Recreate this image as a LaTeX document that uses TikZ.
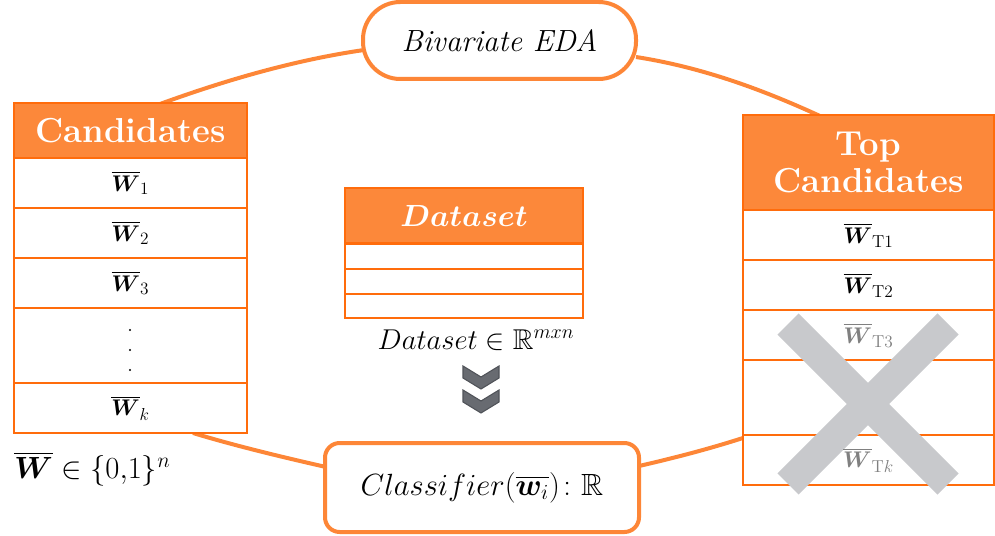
\RequirePackage{fix-cm}
\documentclass[tikz,border=0pt]{standalone}
\usepackage{amsmath,amssymb,bm}
\DeclareMathSizes{17}{17}{13}{10}
\definecolor{orfill}{RGB}{252,136,58}
\definecolor{orline}{RGB}{255,108,12}
\definecolor{orring}{RGB}{253,134,55}
\definecolor{xgray}{RGB}{200,201,204}
\definecolor{txtgray}{RGB}{128,128,128}
\definecolor{chevfill}{RGB}{104,107,113}
\definecolor{chevdark}{RGB}{80,83,89}
\begin{document}
\begin{tikzpicture}[x=0.75pt,y=-0.75pt,
  cell/.style 2 args={draw=orline, line width=1.5pt, fill=white,
    minimum width=#1*0.75pt, minimum height=#2*0.75pt,
    inner sep=0pt, outer sep=0pt, font=\fontsize{17}{20}\selectfont},
  head/.style 2 args={cell={#1}{#2}, fill=orfill, text=white,
    font=\bfseries\fontsize{26}{28}\selectfont, align=center},
  ring/.style={draw=orring, line width=3pt},
  bubble/.style={draw=orring, line width=3pt, fill=white, inner sep=0pt},
  graytxt/.style={text=txtgray, font=\fontsize{17}{20}\selectfont, inner sep=0pt},
  chevron/.style={fill=chevfill, draw=chevdark, line width=0.8pt, line join=miter},
  cross/.style={draw=xgray, line width=22.5pt}
]
\useasboundingbox (0,0) rectangle (995,535);

% ring connectors (drawn first, behind everything)
\coordinate (r1a) at (160,104);
\coordinate (r1b) at (364,50);
\coordinate (r2a) at (636,57);
\coordinate (r2b) at (820,116);
\coordinate (r3a) at (639,466);
\coordinate (r3b) at (746,437);
\coordinate (r4a) at (193,433);
\coordinate (r4b) at (326,467);
\draw[ring] (r1a) .. controls (226,80) and (295,60) .. (r1b);
\draw[ring] (r2a) .. controls (700,67) and (759,88) .. (r2b);
\draw[ring] (r3a) .. controls (674,458) and (709,449) .. (r3b);
\draw[ring] (r4a) .. controls (236,446) and (282,457) .. (r4b);

% nodes on the ring
\node[bubble, minimum width=204.75pt, minimum height=57.75pt, rounded corners=28pt,
      font=\fontsize{23}{27}\selectfont] (eda) at (499.5,40.5) {\textit{Bivariate EDA}};
\node[bubble, minimum width=235.5pt, minimum height=66.75pt, rounded corners=11pt,
      font=\fontsize{23}{27}\selectfont] (clf) at (482,487.5)
      {$Classifier(\overline{\bm{w}_i})\colon\mathbb{R}$};

% left table: Candidates
\node[head={233}{55}] (ch) at (130.5,130.5) {Candidates};
\node[cell={233}{50}] (c1) at (130.5,183) {$\overline{\bm{W}}_1$};
\node[cell={233}{50}] (c2) at (130.5,233) {$\overline{\bm{W}}_2$};
\node[cell={233}{50}] (c3) at (130.5,283) {$\overline{\bm{W}}_3$};
\node[cell={233}{75}] (c4) at (130.5,345.5) {};
\node[cell={233}{50}] (c5) at (130.5,408) {$\overline{\bm{W}}_k$};
\fill (130,330) circle (0.9pt) (130,350) circle (0.9pt) (130,370) circle (0.9pt);
\node[anchor=west, inner sep=0pt, font=\fontsize{23}{27}\selectfont] (wdef) at (14,469)
  {$\overline{\bm{W}}\in\{0{,}1\}^n$};

% middle table: Dataset
\node[cell={238}{55}, fill=orfill, text=white, font=\fontsize{23}{27}\selectfont] (dh) at (464,215.5) {$\bm{Dataset}$};
\node[cell={238}{25}] (d1) at (464,256) {};
\node[cell={238}{25}] (d2) at (464,281.5) {};
\node[cell={238}{24}] (d3) at (464,306) {};
\node[inner sep=0pt, font=\fontsize{21.5}{25}\selectfont] (dlab) at (476,340)
  {$Dataset\in\mathbb{R}^{mxn}$};

% double chevron
\draw[chevron] (463,366) -- (481,377) -- (499,366) -- (499,378) -- (481,389) -- (463,378) -- cycle;
\draw[chevron] (463,390) -- (481,401) -- (499,390) -- (499,402) -- (481,413) -- (463,402) -- cycle;

% right table: Top Candidates
\node[head={251}{95}] (th) at (868.5,162.5) {Top\\Candidates};
\node[cell={251}{50}] (t1) at (868.5,235) {$\overline{\bm{W}}_{\mathrm{T}1}$};
\node[cell={251}{50}] (t2) at (868.5,285) {$\overline{\bm{W}}_{\mathrm{T}2}$};
\node[cell={251}{50}] (t3) at (868.5,335) {};
\node[cell={251}{75}] (t4) at (868.5,397.5) {};
\node[cell={251}{50}] (t5) at (868.5,460) {};

% cross
\coordinate (xa) at (788,324);
\coordinate (xb) at (948,484);
\coordinate (xc) at (948,324);
\coordinate (xd) at (788,484);
\draw[cross] (xa) -- (xb);
\draw[cross] (xc) -- (xd);
\node[graytxt] (t3lab) at (t3.center) {$\overline{\bm{W}}_{\mathrm{T}3}$};
\node[graytxt] (t5lab) at (t5.center) {$\overline{\bm{W}}_{\mathrm{T}k}$};
\end{tikzpicture}
\end{document}
